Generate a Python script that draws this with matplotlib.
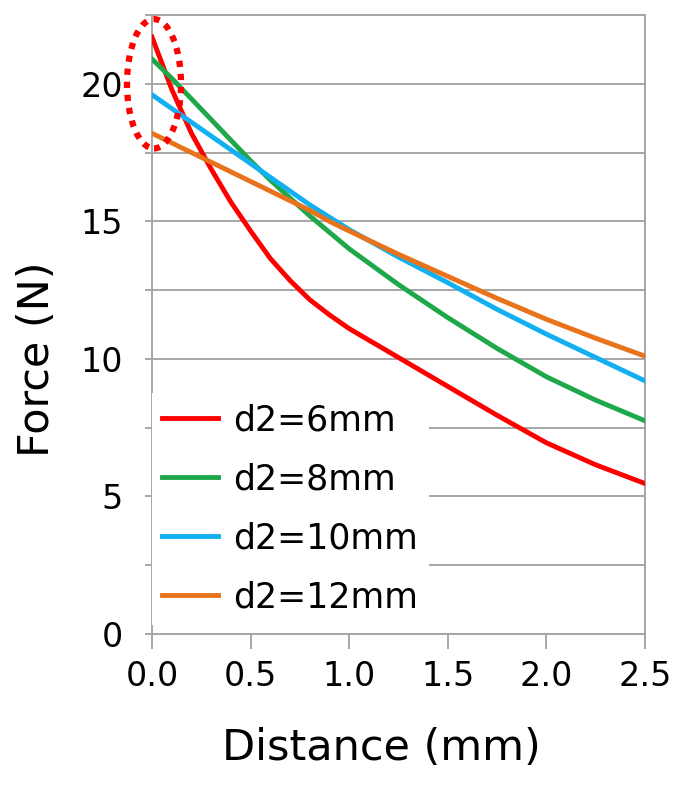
import matplotlib
matplotlib.use("Agg")
import matplotlib.pyplot as plt
from matplotlib.patches import Ellipse
from matplotlib.ticker import MultipleLocator, FormatStrFormatter

# distance (mm) and force (N)
distance = [0.0, 0.1, 0.2, 0.3, 0.4, 0.5, 0.6, 0.7, 0.8, 0.9, 1.0,
            1.25, 1.5, 1.75, 2.0, 2.25, 2.5]
force_d6 = [21.7, 19.8, 18.2, 16.9, 15.7, 14.65, 13.65, 12.85, 12.15, 11.6, 11.1,
            10.05, 9.0, 7.95, 6.95, 6.15, 5.47]
force_d8 = [20.9, 20.2, 19.45, 18.7, 17.95, 17.2, 16.5, 15.85, 15.2, 14.6, 14.0,
            12.7, 11.5, 10.38, 9.35, 8.5, 7.75]
force_d10 = [19.6, 19.1, 18.6, 18.1, 17.6, 17.1, 16.6, 16.1, 15.6, 15.15, 14.7,
             13.7, 12.77, 11.8, 10.9, 10.05, 9.2]
force_d12 = [18.2, 17.85, 17.5, 17.15, 16.8, 16.45, 16.1, 15.75, 15.4, 15.0, 14.65,
             13.8, 13.0, 12.2, 11.44, 10.75, 10.1]

labels = ["d2=6mm", "d2=8mm", "d2=10mm", "d2=12mm"]
colors = ["#ff0000", "#1fa84a", "#12b0f0", "#e8731a"]

fig = plt.figure(figsize=(6.86, 7.89), dpi=100)
ax = fig.add_axes([152 / 686, 155 / 789, 493 / 686, 619 / 789])

for ys, lab, col in zip([force_d6, force_d8, force_d10, force_d12], labels, colors):
    ax.plot(distance, ys, color=col, lw=3.5, label=lab, zorder=3,
            solid_joinstyle="round")

ax.set_xlim(0, 2.5)
ax.set_ylim(0, 22.5)
ax.xaxis.set_major_locator(MultipleLocator(0.5))
ax.yaxis.set_major_locator(MultipleLocator(5))
ax.yaxis.set_minor_locator(MultipleLocator(2.5))
ax.xaxis.set_major_formatter(FormatStrFormatter("%.1f"))

grid_col = "#a6a6a6"
ax.grid(True, axis="y", which="both", color=grid_col, lw=1.4, zorder=0)
for sp in ax.spines.values():
    sp.set_color(grid_col)
    sp.set_linewidth(1.4)

ax.tick_params(axis="y", which="both", direction="out", length=5, width=1.4,
               color=grid_col, labelsize=24, pad=16)
ax.tick_params(axis="x", direction="out", length=11, width=1.4,
               color=grid_col, labelsize=24, pad=8)

ax.set_xlabel("Distance (mm)", fontsize=31)
ax.set_ylabel("Force (N)", fontsize=31)
ax.xaxis.set_label_coords(0.465, -0.15)
ax.yaxis.set_label_coords(-0.19, 0.444)

# dotted ellipse marking the starting forces
ell = Ellipse((0.01, 20.0), 0.274, 4.7, fill=False, edgecolor="#ff0000",
              lw=4.5, linestyle=(0, (1, 1.1)), clip_on=False, zorder=4)
ax.add_patch(ell)

leg = ax.legend(loc="lower left", bbox_to_anchor=(0, 0.015), borderaxespad=0,
                fontsize=25, frameon=True, fancybox=False, framealpha=1,
                edgecolor="none", handlelength=1.6, handletextpad=0.45,
                labelspacing=0.72, borderpad=0.3)
leg.set_zorder(5)

fig.savefig("out.png", dpi=100)
